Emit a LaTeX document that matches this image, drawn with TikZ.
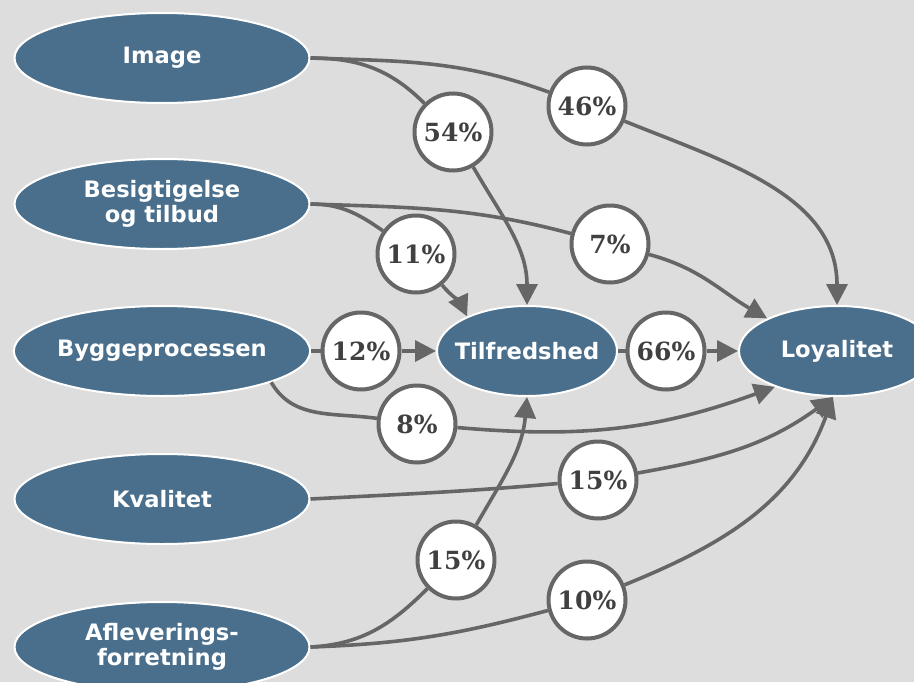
\documentclass[tikz,border=0pt]{standalone}
\usepackage{fontspec}
\setmainfont{DejaVu Sans}
\newfontfamily\pctfont{DejaVu Serif}
\usetikzlibrary{shapes.geometric,arrows.meta}
\definecolor{bgcol}{HTML}{DDDDDD}
\definecolor{boxcol}{HTML}{4A6F8C}
\definecolor{linecol}{HTML}{666666}
\definecolor{pctcol}{HTML}{404040}

\begin{document}
\begin{tikzpicture}[x = 0.5pt, y = 0.5pt,
    factor/.style = {ellipse, draw = white, line width = 1pt, fill = boxcol, text = white,
      font = \fontsize{11.3}{12.5}\selectfont\bfseries, align = center, inner sep = 0pt,
      minimum width = 147.5pt, minimum height = 45pt},
    weight/.style = {circle, draw = linecol, line width = 2pt, fill = white, text = pctcol,
      font = \fontsize{12.5}{13}\selectfont\pctfont\bfseries, inner sep = 0pt, minimum size = 38.5pt},
    link/.style = {draw = linecol, line width = 1.8pt},
    arr/.style = {link, -{Triangle[length = 10.5pt, width = 10.5pt]}}]
    \useasboundingbox (0, 0) rectangle (914, 682);
    \clip (0, 0) rectangle (914, 682);
    \fill[bgcol] (0, 0) rectangle (914, 682);

    \node[factor] (image) at (162, 624) {Image};
    \node[factor] (besig) at (162, 478) {Besigtigelse\\og tilbud};
    \node[factor] (bygge) at (162, 331) {Byggeprocessen};
    \node[factor] (kval)  at (162, 183) {Kvalitet};
    \node[factor] (aflev) at (162, 35)  {Afleverings-\\forretning};
    \node[factor, minimum width = 90pt] (tilf)  at (527, 331) {\makebox[0pt]{Tilfredshed}};
    \node[factor, minimum width = 98pt] (loyal) at (837, 331) {Loyalitet};

    \node[weight] (w54)  at (453, 550) {54\%};
    \node[weight] (w46)  at (587, 576) {46\%};
    \node[weight] (w11)  at (416, 428) {11\%};
    \node[weight] (w7)   at (610, 438) {7\%};
    \node[weight] (w12)  at (361, 331) {12\%};
    \node[weight] (w8)   at (417, 258) {8\%};
    \node[weight] (w66)  at (666, 331) {66\%};
    \node[weight] (w15a) at (598, 202) {15\%};
    \node[weight] (w15b) at (456, 122) {15\%};
    \node[weight] (w10)  at (587, 82)  {10\%};

    % paths through the weights
    \draw[link] (image.east) to[out = 0, in = 135] (w54);
    \draw[arr] (w54) to[out = -60, in = 90] (tilf.north);
    \draw[link] (image.east) to[out = -2, in = 160] (w46);
    \draw[arr] (w46) to[out = -22, in = 90] (loyal.north);
    \draw[link] (besig.east) to[out = 0, in = 145] (w11);
    \draw[arr] (w11) to[out = -50, in = 115] (tilf.150);
    \draw[link] (besig.east) to[out = -2, in = 165] (w7);
    \draw[arr] (w7) to[out = -15, in = 150] (loyal.155);
    \draw[link] (bygge) -- (w12);
    \draw[arr] (w12) -- (tilf);
    \draw[link] (bygge.-16) to[out = -60, in = 172] (w8);
    \draw[arr] (w8) to[out = -5, in = 200] (loyal.210);
    \draw[link] (tilf) -- (w66);
    \draw[arr] (w66) -- (loyal);
    \draw[link] (kval.east) to[out = 3, in = 185] (w15a);
    \draw[arr] (w15a) to[out = 10, in = -144] (loyal.265);
    \draw[link] (aflev.east) to[out = 3, in = -135] (w15b);
    \draw[arr] (w15b) to[out = 60, in = -95] (tilf.south);
    \draw[link] (aflev.east) to[out = 2, in = 195] (w10);
    \draw[arr] (w10) to[out = 22, in = -110] (loyal.265);
  \end{tikzpicture}
\end{document}
